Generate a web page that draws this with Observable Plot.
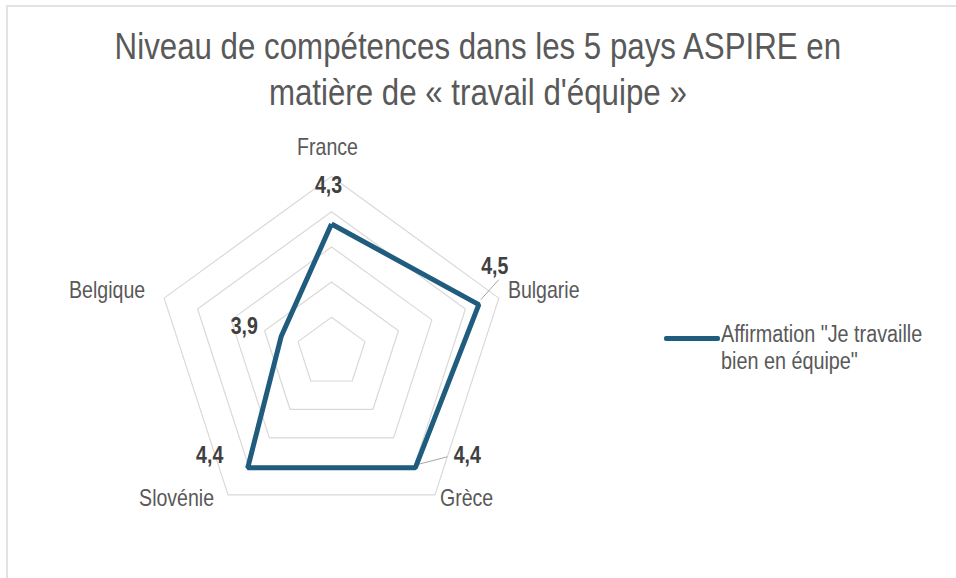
<!DOCTYPE html>
<html><head><meta charset="utf-8">
<script src="https://cdn.jsdelivr.net/npm/d3@7"></script>
<script src="https://cdn.jsdelivr.net/npm/@observablehq/plot@0.6"></script>
<style>
body{margin:0;background:#fff;}
#wrap{position:relative;width:956px;height:578px;overflow:hidden;font-family:"Liberation Sans","Arial",sans-serif;}
#frame{position:absolute;left:6px;top:5px;width:980px;height:620px;border-top:2px solid #e3e3e3;border-left:2px solid #e3e3e3;}
#title{position:absolute;left:0;top:24px;width:956px;text-align:center;font-size:37px;line-height:46px;color:#595959;transform:scaleX(0.845);transform-origin:477px 0;white-space:nowrap;}
#plot{position:absolute;left:0;top:0;}
#legend{position:absolute;left:664px;top:321px;width:280px;}
#legend .sw{position:absolute;left:0;top:15px;width:56px;height:5px;background:#1f5c7e;border-radius:2px;}
#legend .tx{position:absolute;left:57px;top:0;font-size:23px;line-height:27px;color:#595959;white-space:nowrap;transform:scaleX(0.86);transform-origin:0 0;}
</style></head>
<body>
<div id="wrap">
  <div id="frame"></div>
  <div id="plot"></div>
  <div id="title">Niveau de compétences dans les 5 pays ASPIRE en<br>matière de « travail d'équipe »</div>
  <div id="legend"><div class="sw"></div><div class="tx"></div></div>
</div>
<script>
// ---- data ----
const categories = ["France", "Bulgarie", "Grèce", "Slovénie", "Belgique"];
const values = [4.33, 4.48, 4.41, 4.41, 3.9];
const ringLevels = [3.8, 4.0, 4.2, 4.4, 4.6];
const axisMin = 3.6;
const axisMax = 4.6;
const legendLines = ['Affirmation "Je travaille', 'bien en équipe"'];

// ---- layout ----
const W = 956, H = 578;
const cx = 331, cy = 352, R = 176;
const lineColor = "#1f5c7e";
const fontFam = '"Liberation Sans","Arial",sans-serif';
const condense = 0.85;

const rad = d3.scaleLinear().domain([axisMin, axisMax]).range([0, 1]);
const n = categories.length;
const ang = i => (i * 2 * Math.PI) / n;
const px = (i, v) => rad(v) * Math.sin(ang(i));
const py = (i, v) => rad(v) * Math.cos(ang(i));

// rings
const rings = [];
ringLevels.forEach(lv => {
  for (let k = 0; k <= n; k++) rings.push({level: lv, x: px(k % n, lv), y: py(k % n, lv)});
});
// series polygon
const series = [];
for (let k = 0; k <= n; k++) series.push({cat: categories[k % n], x: px(k % n, values[k % n]), y: py(k % n, values[k % n])});

// category labels placement (pixel offsets from outer vertex)
const catOffsets = {
  "France":   {dx: -4, dy: -22, anchor: "middle"},
  "Bulgarie": {dx: 9,  dy: 0,   anchor: "start"},
  "Grèce":    {dx: 5,  dy: 11,  anchor: "start"},
  "Slovénie": {dx: -14, dy: 11, anchor: "end"},
  "Belgique": {dx: -19, dy: 0,  anchor: "end"}
};
const catData = categories.map((c, i) => ({cat: c, x: px(i, axisMax), y: py(i, axisMax), ...catOffsets[c]}));

// value labels placement (pixel offsets from data point)
const valOffsets = {
  "France":   {dx: -3, dy: -31},
  "Bulgarie": {dx: 16, dy: -31},
  "Grèce":    {dx: 52, dy: -5},
  "Slovénie": {dx: -38, dy: -5},
  "Belgique": {dx: -37, dy: -2}
};
const fmt = v => d3.format(".1f")(v).replace(".", ",");
const valData = categories.map((c, i) => ({cat: c, v: values[i], x: px(i, values[i]), y: py(i, values[i]), ...valOffsets[c]}));

// leader lines (pixel offsets of end points from data point)
const leaders = [
  {cat: "Bulgarie", sx: 2, sy: -5, ex: 20, ey: -25},
  {cat: "Grèce", sx: 1, sy: -3, ex: 32, ey: -11}
].map(d => {
  const i = categories.indexOf(d.cat);
  const x0 = px(i, values[i]), y0 = py(i, values[i]);
  return {x1: x0 + d.sx / R, y1: y0 - d.sy / R, x2: x0 + d.ex / R, y2: y0 - d.ey / R};
});

const chart = Plot.plot({
  width: W, height: H,
  margin: 0,
  x: {domain: [-cx / R, (W - cx) / R], range: [0, W], axis: null},
  y: {domain: [(cy - H) / R, cy / R], range: [H, 0], axis: null},
  style: {fontFamily: fontFam, background: "transparent", overflow: "visible"},
  marks: [
    Plot.line(rings, {x: "x", y: "y", z: "level", stroke: "#d9d9d9", strokeWidth: 1.2}),
    Plot.link(leaders, {x1: "x1", y1: "y1", x2: "x2", y2: "y2", stroke: "#a6a6a6", strokeWidth: 1}),
    Plot.line(series, {x: "x", y: "y", stroke: lineColor, strokeWidth: 5, strokeLinejoin: "miter", strokeLinecap: "butt"}),
    ...catData.map(d => Plot.text([d], {x: "x", y: "y", text: "cat", textAnchor: d.anchor, dx: d.dx, dy: d.dy, fontSize: 23, fill: "#595959"})),
    ...valData.map(d => Plot.text([d], {x: "x", y: "y", text: d => fmt(d.v), dx: d.dx, dy: d.dy, fontSize: 23, fontWeight: "bold", fill: "#404040"}))
  ]
});
// condense the glyphs horizontally (narrow typeface look) around each text's anchor
chart.querySelectorAll("text").forEach(t => {
  let tr = t.getAttribute("transform") || "";
  if (t.hasAttribute("x") || t.hasAttribute("y")) {
    const x = +t.getAttribute("x") || 0, y = +t.getAttribute("y") || 0;
    t.removeAttribute("x"); t.removeAttribute("y");
    tr = `translate(${x},${y}) ` + tr;
  }
  t.setAttribute("transform", (tr + ` scale(${condense},1)`).trim());
});
document.getElementById("plot").appendChild(chart);
document.querySelector("#legend .tx").innerHTML = legendLines.join("<br>");
</script>
</body></html>
